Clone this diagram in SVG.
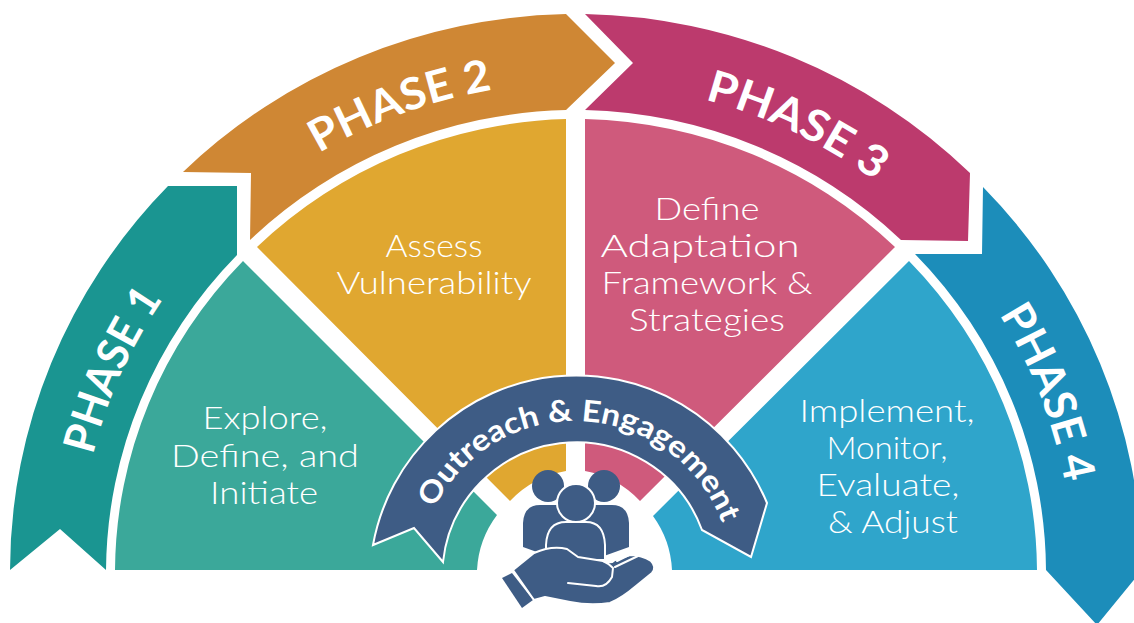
<svg xmlns="http://www.w3.org/2000/svg" width="1134" height="623" viewBox="0 0 1134 623">
<style>
.ph{font-family:"Lato","Liberation Sans",sans-serif;font-weight:700;font-size:44px;fill:#fff}
.t{font-family:"Lato","Open Sans",sans-serif;font-weight:300;font-size:32px;fill:#fff;text-anchor:middle}
.o{font-family:"Lato","Liberation Sans",sans-serif;font-weight:700;font-size:30px;fill:#fff}
.ic{fill:#3E5C85}
.wl{fill:none;stroke:#fff;stroke-width:2;stroke-linecap:round;stroke-linejoin:round}
</style>
<defs>
<path id="phasearc" d="M79 570A497 487 0 0 1 1073 570"/>
<path id="bannerarc" d="M418 578A157 157 0 0 1 732 578"/>
</defs>
<rect width="1134" height="623" fill="#fff"/>
<g id="phase1"><path fill="#1A9591" d="M10 570A566 556 0 0 1 168 186L237 186L237 255A470 460 0 0 0 106 570L60 529Z"/>
<text class="ph"><textPath href="#phasearc" startOffset="116" textLength="172" lengthAdjust="spacingAndGlyphs">PHASE 1</textPath></text></g>
<g id="phase2"><path fill="#CF8734" d="M183 172A566 556 0 0 1 566 14L615 63L566 110A470 460 0 0 0 250 240L251 173Z"/>
<text class="ph"><textPath href="#phasearc" startOffset="503" textLength="186" lengthAdjust="spacingAndGlyphs">PHASE 2</textPath></text></g>
<g id="phase3"><path fill="#BC3A6D" d="M585 14A566 556 0 0 1 970 173L968 241L901 240A470 460 0 0 0 585 110L633 63Z"/>
<text class="ph"><textPath href="#phasearc" startOffset="903" textLength="190" lengthAdjust="spacingAndGlyphs">PHASE 3</textPath></text></g>
<g id="phase4"><path fill="#1C8DBA" d="M983 187A566 556 0 0 1 1142 570L1097 625L1046 570A470 460 0 0 0 915 254L982 254Z"/>
<text class="ph"><textPath href="#phasearc" startOffset="1276" textLength="182" lengthAdjust="spacingAndGlyphs">PHASE 4</textPath></text></g>
<g id="step1"><path fill="#3BA89A" d="M115 570A461 451 0 0 1 243 261L497 515A100 100 0 0 0 477 570Z"/>
<text class="t" x="265" y="429" textLength="125" lengthAdjust="spacingAndGlyphs">Explore,</text>
<text class="t" x="265" y="467" textLength="188" lengthAdjust="spacingAndGlyphs">Define, and</text>
<text class="t" x="264" y="504" textLength="108" lengthAdjust="spacingAndGlyphs">Initiate</text></g>
<g id="step2"><path fill="#E0A730" d="M566 119A461 451 0 0 0 257 247L510 501A100 100 0 0 1 566 471Z"/>
<text class="t" x="434" y="257" textLength="97" lengthAdjust="spacingAndGlyphs">Assess</text>
<text class="t" x="434" y="294" textLength="195" lengthAdjust="spacingAndGlyphs">Vulnerability</text></g>
<g id="step3"><path fill="#CF5A7C" d="M585 119A461 451 0 0 1 895 247L640 501A100 100 0 0 0 585 471Z"/>
<text class="t" x="707" y="220" textLength="105" lengthAdjust="spacingAndGlyphs">Define</text>
<text class="t" x="700" y="257" textLength="199" lengthAdjust="spacingAndGlyphs">Adaptation</text>
<text class="t" x="707" y="294" textLength="211" lengthAdjust="spacingAndGlyphs">Framework &amp;</text>
<text class="t" x="707" y="331" textLength="156" lengthAdjust="spacingAndGlyphs">Strategies</text></g>
<g id="step4"><path fill="#2FA5CB" d="M1037 570A461 451 0 0 0 909 261L653 516A100 100 0 0 1 672 570Z"/>
<text class="t" x="887" y="422" textLength="175" lengthAdjust="spacingAndGlyphs">Implement,</text>
<text class="t" x="887" y="459" textLength="121" lengthAdjust="spacingAndGlyphs">Monitor,</text>
<text class="t" x="888" y="496" textLength="143" lengthAdjust="spacingAndGlyphs">Evaluate,</text>
<text class="t" x="893" y="533" textLength="130" lengthAdjust="spacingAndGlyphs">&amp; Adjust</text></g>
<g id="banner"><path fill="#3E5C85" stroke="#fff" stroke-width="2" stroke-linejoin="miter" d="M373 545A206.5 206.5 0 0 1 767 503L751 557L702 530A134 134 0 0 0 443 562L414 528Z"/>
<text class="o"><textPath href="#bannerarc" startOffset="72" textLength="365" lengthAdjust="spacingAndGlyphs">Outreach &amp; Engagement</textPath></text></g>
<g id="people">
<circle class="ic" cx="548" cy="486" r="16"/>
<circle class="ic" cx="604" cy="486" r="16"/>
<path class="ic" d="M523 547L523 523Q524 505 540 505L568 505L584 505L612 505Q628 505 629 523L629 547L604 556L548 556Z"/>
<circle class="ic" cx="576" cy="503" r="19" stroke="#fff" stroke-width="2"/>
<path class="ic" stroke="#fff" stroke-width="2" d="M546 552L546 545Q547 522 566 522L586 522Q604 522 605 545L605 560L546 560Z"/>
</g>
<g id="hand">
<path class="ic" d="M502 578L512 573L533 600L522 608Z"/>
<path class="ic" stroke="#fff" stroke-width="2" stroke-linejoin="round" d="M513 570L534 553Q552 545 567 549L578 557L603 561Q612 564 615 560L630 555Q642 555 651 561Q657 567 652 573L636 586Q622 598 610 603Q590 606 570 602L545 597L534 600Z"/>
<path class="wl" d="M568 583L596 586Q606 588 612 577L613 568Q608 563 603 561"/>
<path class="wl" d="M617 561L633 553"/>
<path class="wl" d="M615 567L638 556"/>
</g>
</svg>
